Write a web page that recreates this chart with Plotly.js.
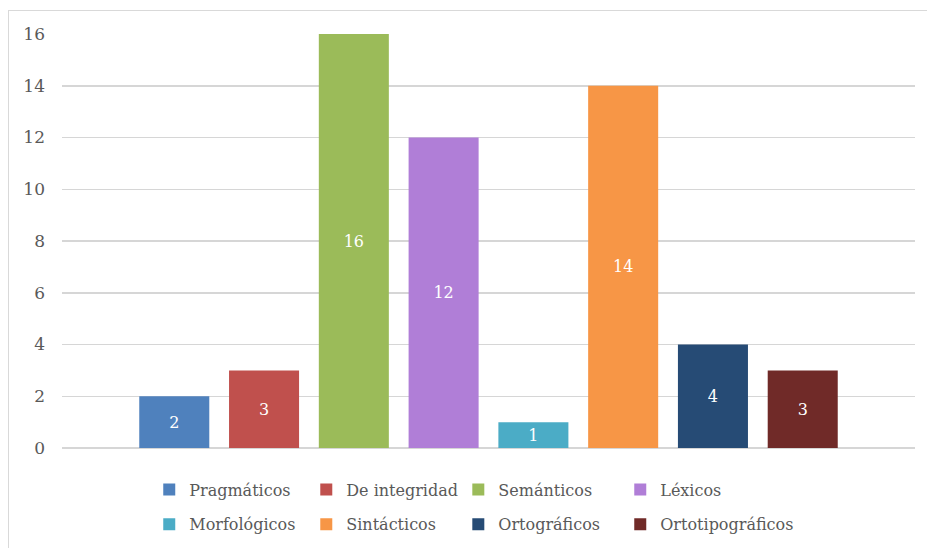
<!DOCTYPE html>
<html>
<head>
<meta charset="utf-8">
<script src="https://cdn.plot.ly/plotly-3.0.1.min.js"></script>
<style>
  html, body { margin: 0; padding: 0; background: #ffffff; }
  #wrap { position: relative; width: 927px; height: 548px; overflow: hidden; }
  #chart { position: absolute; left: 0; top: 0; width: 927px; height: 548px; }
  #frame { position: absolute; left: 8px; top: 10px; width: 940px; height: 560px;
           border-left: 1.5px solid #d9d9d9; border-top: 1.5px solid #d9d9d9;
           pointer-events: none; }
</style>
</head>
<body>
<div id="wrap">
  <div id="chart"></div>
  <div id="frame"></div>
</div>
<script>
const categories = ["Pragmáticos", "De integridad", "Semánticos", "Léxicos",
                    "Morfológicos", "Sintácticos", "Ortográficos", "Ortotipográficos"];
const values = [2, 3, 16, 12, 1, 14, 4, 3];
const colors = ["#4F81BD", "#C0504D", "#9BBB59", "#B07ED7",
                "#4BACC6", "#F79646", "#264B75", "#702A28"];
const yTicks = [0, 2, 4, 6, 8, 10, 12, 14, 16];

const FONT = "DejaVu Serif, Liberation Serif, serif";
const legendIds = ["legend", "legend2", "legend3", "legend4"];
const legendX = [0.1610, 0.3304, 0.4944, 0.6691];

// legend columns: item i goes to column i % 4 (row 1 then row 2)
const traces = categories.map((name, i) => ({
  type: "bar",
  name: name,
  x: [""],
  y: [values[i]],
  text: [String(values[i])],
  textposition: "inside",
  insidetextanchor: "middle",
  textangle: 0,
  textfont: { family: FONT, size: 16, color: "#ffffff" },
  marker: { color: colors[i] },
  legend: legendIds[i % 4],
  legendgroup: "g" + i,
  hoverinfo: "name+y"
}));

const layout = {
  width: 927,
  height: 548,
  margin: { l: 62, r: 12, t: 34, b: 100, autoexpand: false },
  paper_bgcolor: "#ffffff",
  plot_bgcolor: "#ffffff",
  barmode: "group",
  bargap: 0.158,
  bargroupgap: 0.22,
  showlegend: true,
  font: { family: FONT, color: "#595959" },
  xaxis: {
    showticklabels: false,
    showgrid: false,
    zeroline: false,
    showline: false,
    ticks: ""
  },
  yaxis: {
    range: [0, 16],
    tickvals: yTicks,
    ticktext: yTicks.map(String),
    tickfont: { family: FONT, size: 17, color: "#595959" },
    showgrid: true,
    gridcolor: "#d6d6d6",
    gridwidth: 1.5,
    zeroline: true,
    zerolinecolor: "#d6d6d6",
    zerolinewidth: 1.5,
    showline: false,
    ticks: "",
    ticklabelstandoff: 16,
    automargin: false,
    fixedrange: true
  }
};

legendIds.forEach((id, k) => {
  layout[id] = {
    orientation: "v",
    xref: "container",
    yref: "container",
    x: legendX[k],
    xanchor: "left",
    y: 0.1378,
    yanchor: "top",
    font: { family: FONT, size: 16, color: "#595959" },
    itemwidth: 30,
    traceorder: "grouped",
    tracegroupgap: 11,
    bgcolor: "rgba(0,0,0,0)"
  };
});

Plotly.newPlot("chart", traces, layout, { displayModeBar: false, staticPlot: true });
</script>
</body>
</html>
